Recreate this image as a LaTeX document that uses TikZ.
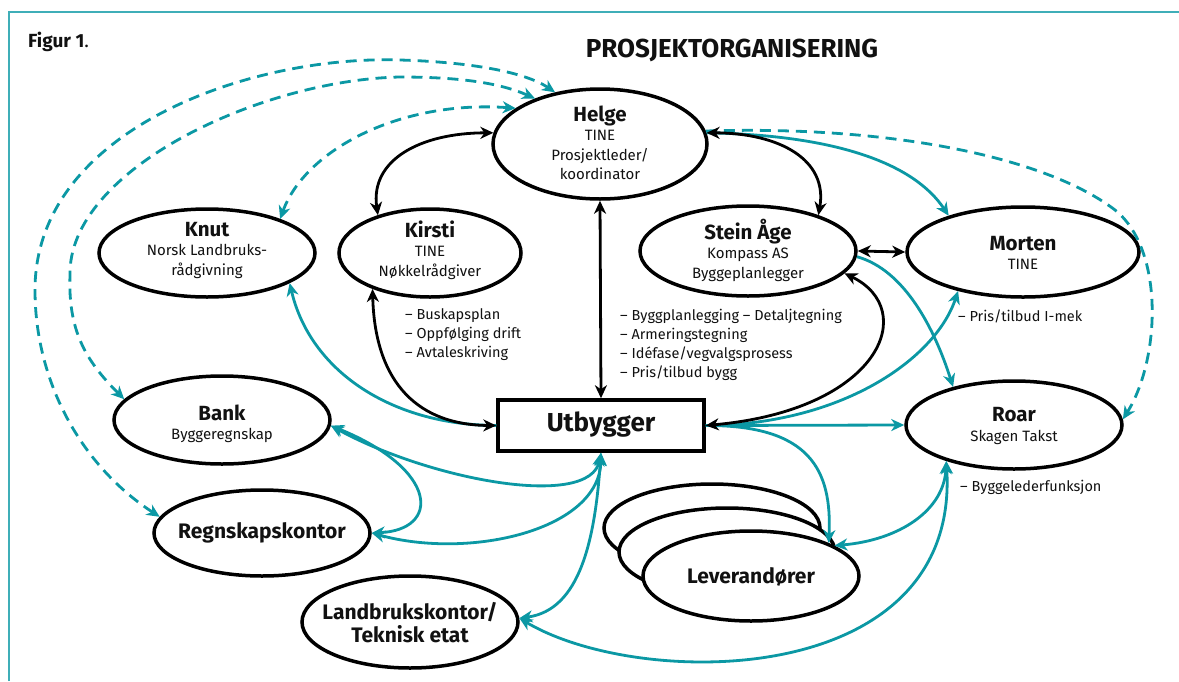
\documentclass[tikz,border=0pt]{standalone}
\usepackage{fontspec}
\setmainfont{Fira Sans}
\usetikzlibrary{arrows.meta,shapes.geometric}
\definecolor{teal1}{HTML}{0B98A4}
\definecolor{framec}{HTML}{3FAEB8}
\definecolor{ink}{HTML}{111111}
\newcommand{\ttlfont}{\bfseries\fontsize{20.5}{22}\selectfont}
\begin{document}
\begin{tikzpicture}[x=1pt,y=-1pt,
  >={Stealth[length=13pt,width=12pt,inset=4pt]},
  ell/.style={draw=black,ellipse,line width=3.5pt,fill=white,inner sep=0pt},
  txt/.style={align=center,font=\fontsize{15}{19.5}\selectfont,inner sep=0pt,text=ink},
  btxt/.style={align=center,font=\bfseries\fontsize{21}{23}\selectfont,inner sep=0pt,text=ink},
  blk/.style={line width=2.8pt,draw=black},
  tl/.style={line width=2.8pt,draw=teal1},
  tld/.style={line width=2.8pt,draw=teal1,dash pattern=on 11pt off 7pt},
  note/.style={anchor=west,align=left,font=\fontsize{14.5}{19}\selectfont,inner sep=0pt,text=ink}]
\useasboundingbox (0,0) rectangle (1179,681);
\fill[white] (0,0) rectangle (1179,681);
\draw[framec,line width=1.4pt] (9,681) -- (9,12) -- (1179,12);

\node[anchor=west,inner sep=0pt,font=\fontsize{19}{22}\selectfont,text=ink] (fig) at (28,42) {\bfseries Figur 1\mdseries.};
\node[inner sep=0pt,font=\bfseries\fontsize{26}{30}\selectfont,text=ink] (title) at (732,50) {PROSJEKTORGANISERING};

% nodes
\node[ell,minimum width=214,minimum height=110] (helge) at (600,144) {};
\node[ell,minimum width=216,minimum height=88] (knut) at (207,253) {};
\node[ell,minimum width=182,minimum height=88] (kirsti) at (430,253) {};
\node[ell,minimum width=216,minimum height=90] (stein) at (748,251) {};
\node[ell,minimum width=232,minimum height=90] (morten) at (1023,252) {};
\node[ell,minimum width=216,minimum height=88] (bank) at (222,420) {};
\node[ell,minimum width=216,minimum height=86] (regn) at (262,533) {};
\node[ell,minimum width=216,minimum height=92] (land) at (410,622) {};
\node[ell,minimum width=216,minimum height=88] (roar) at (1014,425) {};
\node[ell,minimum width=216,minimum height=88] (lev3) at (712,528) {};
\node[ell,minimum width=216,minimum height=88] (lev2) at (727,552) {};
\node[ell,minimum width=216,minimum height=90] (lev) at (751,576) {};
\node[draw=black,line width=3.5pt,fill=white,minimum width=206,minimum height=51,inner sep=0pt] (utb) at (601,425.5) {};

% texts
\node[txt] (helgeT) at (600,143) {{\ttlfont Helge}\\TINE\\Prosjektleder/\\koordinator};
\node[txt] (knutT) at (207,250) {{\ttlfont Knut}\\Norsk Landbruks-\\rådgivning};
\node[txt] (kirstiT) at (430,250) {{\ttlfont Kirsti}\\TINE\\Nøkkelrådgiver};
\node[txt] (steinT) at (748,250) {{\ttlfont Stein Åge}\\Kompass AS\\Byggeplanlegger};
\node[txt] (mortenT) at (1023,253) {{\ttlfont Morten}\\TINE};
\node[txt] (bankT) at (222,424) {{\ttlfont Bank}\\Byggeregnskap};
\node[btxt] (regnT) at (262,533) {Regnskapskontor};
\node[btxt] (landT) at (410,623) {Landbrukskontor/\\Teknisk etat};
\node[txt] (roarT) at (1014,426) {{\ttlfont Roar}\\Skagen Takst};
\node[btxt] (levT) at (751,577) {Leverandører};
\node[txt,font=\bfseries\fontsize{26}{30}\selectfont] (utbT) at (601,425) {Utbygger};

% notes
\node[note] (n1) at (405,335) {– Buskapsplan\\– Oppfølging drift\\– Avtaleskriving};
\node[note] (n2) at (620,344.5) {– Byggplanlegging – Detaljtegning\\– Armeringstegning\\– Idéfase/vegvalgsprosess\\– Pris/tilbud bygg};
\node[note] (n3) at (958,316) {– Pris/tilbud I-mek};
\node[note] (n4) at (960,487) {– Byggelederfunksjon};

% dashed teal
\coordinate (o1) at (35,290);
\coordinate (o2) at (400,60);
\draw[tld,<->] (regn.171) .. controls (80,465) and (35,380) .. (o1) .. controls (35,130) and (250,55) .. (o2) .. controls (470,62) and (525,72) .. (helge.131);
\coordinate (m1) at (70,275);
\coordinate (m2) at (400,77);
\draw[tld,<->] (bank.168) .. controls (85,360) and (68,330) .. (m1) .. controls (68,170) and (260,80) .. (m2) .. controls (460,77) and (500,83) .. (helge.145);
\draw[tld,<->] (knut.25) .. controls (305,150) and (400,100) .. (helge.157);
\coordinate (r1) at (1115,210);
\draw[tld,->] (helge.7) .. controls (900,125) and (1050,160) .. (r1) .. controls (1165,250) and (1160,360) .. (roar.3);

% solid teal
\draw[tl,->] (helge.6) .. controls (840,135) and (915,165) .. (morten.154);
\draw[tl,->] (stein.-3) .. controls (905,270) and (935,330) .. (roar.148);
\draw[tl,->] (utb.west) .. controls (390,425) and (310,370) .. (knut.-20);
\draw[tl,<->] (bank.-3) .. controls (430,480) and (590,510) .. (utb.south);
\draw[tl,<->] (bank.-3) .. controls (440,470) and (440,530) .. (regn.0);
\draw[tl,<->] (regn.0) .. controls (470,560) and (600,530) .. (utb.south);
\draw[tl,<->] (utb.south) .. controls (595,540) and (580,610) .. (land.2);
\draw[tl,->] (utb.east) -- (roar.west);
\draw[tl,->] (utb.east) .. controls (840,425) and (935,360) .. (morten.211);
\draw[tl,->] (utb.east) .. controls (810,425) and (832,470) .. (lev.23);
\draw[tl,<->] (lev.20) .. controls (900,540) and (944,510) .. (roar.208);
\draw[tl,<->] (land.2) .. controls (640,690) and (960,690) .. (roar.208);

% black
\draw[blk,<->] (kirsti.144) .. controls (370,160) and (420,133) .. (helge.174);
\draw[blk,<->] (helge.6) .. controls (780,133) and (828,160) .. (stein.27);
\draw[blk,<->] (helge.south) -- (utb.north);
\draw[blk,<->] (kirsti.212) .. controls (375,385) and (420,425) .. (utb.west);
\draw[blk,<->] (stein.-13) .. controls (920,310) and (880,410) .. (utb.east);
\draw[blk,<->] (stein.east) -- (morten.west);
\end{tikzpicture}
\end{document}
